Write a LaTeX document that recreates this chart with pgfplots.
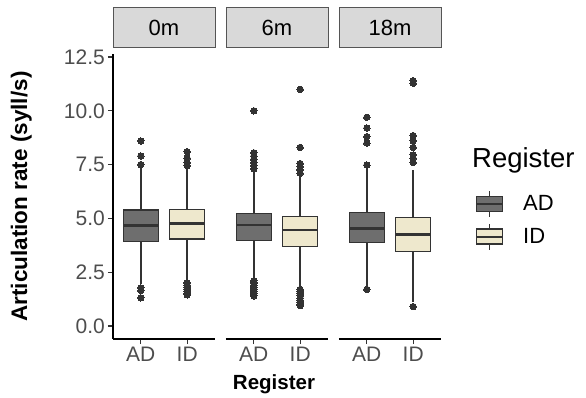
\documentclass[border=0pt]{standalone}
\usepackage{pgfplots}
\pgfplotsset{compat=1.18}
\usepgfplotslibrary{groupplots,statistics}
\usepackage{fontspec}
\setmainfont{Liberation Sans}
\definecolor{adfill}{HTML}{6E6E6E}
\definecolor{idfill}{HTML}{EEE8CD}
\definecolor{edge}{HTML}{333333}
\definecolor{tickgray}{HTML}{4D4D4D}
\definecolor{stripfill}{HTML}{D9D9D9}
\definecolor{stripdraw}{HTML}{555555}

\pgfplotsset{
  boxstyle/.style={
    draw=edge, line width=1.4pt,
    mark=*, mark size=3.2pt, mark options={draw=edge, fill=edge, line width=0pt},
    boxplot/draw direction=y,
    boxplot/box extend=0.75, boxplot/whisker extend=0,
    boxplot/every box/.style={line width=1.4pt},
    boxplot/every whisker/.style={line width=1.4pt},
    boxplot/every median/.style={line width=2.8pt},
  },
  ad/.style={boxstyle, fill=adfill},
  id/.style={boxstyle, fill=idfill},
}

\begin{document}
\begin{tikzpicture}
\begin{groupplot}[
  group style={group size=3 by 1, horizontal sep=11pt},
  scale only axis, width=102pt, height=285pt,
  xmin=0.4, xmax=2.6, ymin=-0.604, ymax=12.64,
  axis x line*=bottom,
  axis line style={black, line width=1.3pt},
  tick align=outside, major tick length=5pt,
  tick style={edge, line width=1.2pt},
  xtick={1,2}, xticklabels={AD,ID},
  ytick={0,2.5,5,7.5,10,12.5},
  yticklabels={0.0,2.5,5.0,7.5,10.0,12.5},
  /pgf/number format/assume math mode=true,
  ticklabel style={text=tickgray, font=\fontsize{21}{21}\selectfont},
  yticklabel style={inner xsep=3pt},
  xticklabel style={inner ysep=3pt},
  title style={at={(rel axis cs:0.5,1)}, anchor=south, yshift=0pt,
    fill=stripfill, draw=stripdraw, line width=0.8pt,
    minimum width=102pt, minimum height=40pt, inner sep=0pt,
    font=\fontsize{22}{22}\selectfont},
  clip=false,
]
% ---------- 0m ----------
\nextgroupplot[title={0m}, axis y line*=left,
  ylabel={\bfseries Articulation rate (syll/s)},
  ylabel style={at={(axis description cs:-0.9,0.5)}, anchor=center, rotate=0,
    font=\fontsize{22.5}{22.5}\selectfont}]
\addplot[ad, boxplot prepared={draw position=1, lower whisker=1.95, lower quartile=3.92,
  median=4.66, upper quartile=5.39, upper whisker=7.35}]
  table[row sep=\\, y index=0] {y\\ 7.5\\ 7.9\\ 8.6\\ 1.77\\ 1.65\\ 1.31\\};
\addplot[id, boxplot prepared={draw position=2, lower whisker=2.1, lower quartile=4.04,
  median=4.77, upper quartile=5.42, upper whisker=7.35}]
  table[row sep=\\, y index=0] {y\\ 7.45\\ 7.6\\ 7.8\\ 8.1\\ 2.0\\ 1.9\\ 1.8\\ 1.7\\ 1.6\\ 1.5\\ 1.45\\};
% ---------- 6m ----------
\nextgroupplot[title={6m}, axis y line=none]
\addplot[ad, boxplot prepared={draw position=1, lower whisker=2.2, lower quartile=3.97,
  median=4.69, upper quartile=5.24, upper whisker=7.2}]
  table[row sep=\\, y index=0] {y\\ 7.3\\ 7.45\\ 7.6\\ 7.75\\ 7.9\\ 8.05\\ 10.0\\ 2.1\\ 2.0\\ 1.9\\ 1.8\\ 1.7\\ 1.6\\ 1.5\\ 1.4\\};
\addplot[id, boxplot prepared={draw position=2, lower whisker=1.75, lower quartile=3.69,
  median=4.46, upper quartile=5.08, upper whisker=7.05}]
  table[row sep=\\, y index=0] {y\\ 7.1\\ 7.25\\ 7.4\\ 7.55\\ 8.3\\ 11.0\\ 1.7\\ 1.6\\ 1.5\\ 1.4\\ 1.3\\ 1.2\\ 1.1\\ 1.0\\ 0.95\\};
% ---------- 18m ----------
\nextgroupplot[title={18m}, axis y line=none,
  legend style={draw=none, fill=none, at={(rel axis cs:1,1)}, anchor=north west,
    xshift=34pt, yshift=-136pt, inner sep=0pt, column sep=20pt, row sep=5.5pt,
    nodes={inner sep=0pt}, font=\fontsize{22}{22}\selectfont},
  legend cell align=left]
\addlegendimage{legend image code/.code={
  \draw[edge, line width=1.2pt] (13pt,7.5pt)--(13pt,13pt) (13pt,-7.5pt)--(13pt,-13pt);
  \draw[fill=adfill, draw=edge, line width=1.2pt] (0pt,-7.5pt) rectangle (26pt,7.5pt);
  \draw[edge, line width=2pt] (0pt,0pt)--(26pt,0pt);}}
\addlegendentry{AD}
\addlegendimage{legend image code/.code={
  \draw[edge, line width=1.2pt] (13pt,7.5pt)--(13pt,13pt) (13pt,-7.5pt)--(13pt,-13pt);
  \draw[fill=idfill, draw=edge, line width=1.2pt] (0pt,-7.5pt) rectangle (26pt,7.5pt);
  \draw[edge, line width=2pt] (0pt,0pt)--(26pt,0pt);}}
\addlegendentry{ID}
\addplot[ad, boxplot prepared={draw position=1, lower whisker=1.85, lower quartile=3.87,
  median=4.54, upper quartile=5.27, upper whisker=7.4}]
  table[row sep=\\, y index=0] {y\\ 7.48\\ 8.5\\ 8.8\\ 9.2\\ 9.7\\ 1.7\\};
\addplot[id, boxplot prepared={draw position=2, lower whisker=1.1, lower quartile=3.45,
  median=4.27, upper quartile=5.03, upper whisker=7.25}]
  table[row sep=\\, y index=0] {y\\ 7.6\\ 7.8\\ 7.95\\ 8.3\\ 8.6\\ 8.85\\ 11.28\\ 11.4\\ 0.9\\};
\end{groupplot}
\node[anchor=base, font=\fontsize{20.5}{20.5}\selectfont\bfseries]
  at ([xshift=-3pt, yshift=-50pt]group c2r1.south) {Register};
\node[anchor=base west, font=\fontsize{27.5}{27.5}\selectfont, inner xsep=0pt]
  at ([xshift=31pt, yshift=-113.5pt]group c3r1.north east) {Register};
\pgfresetboundingbox
\path[use as bounding box] ([xshift=-113pt,yshift=-58pt]group c1r1.south west)
  rectangle ([xshift=473pt,yshift=339pt]group c1r1.south west);
\end{tikzpicture}
\end{document}
